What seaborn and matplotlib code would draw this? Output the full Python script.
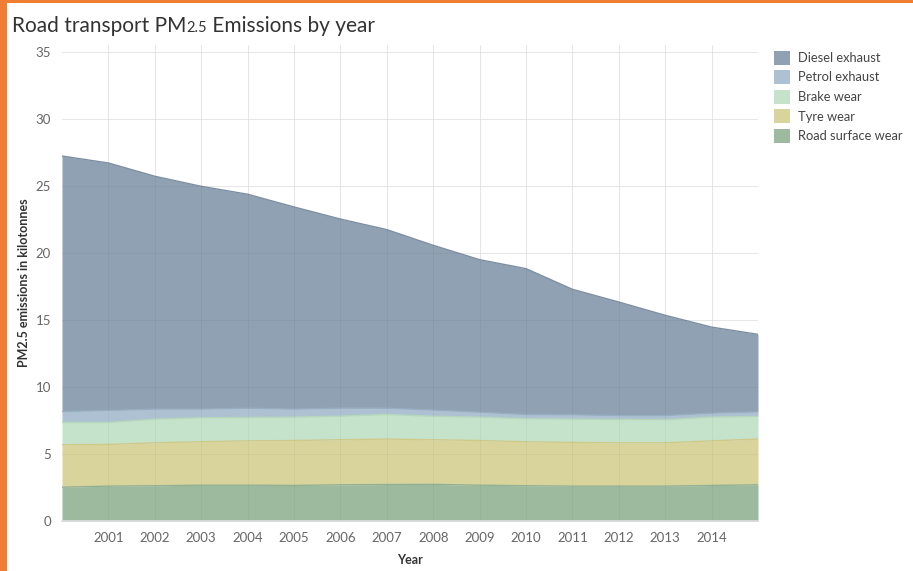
import numpy as np
import pandas as pd
import matplotlib
matplotlib.use("Agg")
import matplotlib.pyplot as plt
import seaborn as sns
from matplotlib.patches import Patch, Rectangle

years = list(range(2000, 2016))
road_surface = [2.52, 2.60, 2.63, 2.67, 2.67, 2.65, 2.70, 2.72, 2.73, 2.67, 2.63, 2.60, 2.60, 2.60, 2.65, 2.70]
tyre = [3.17, 3.11, 3.20, 3.24, 3.31, 3.35, 3.36, 3.39, 3.33, 3.33, 3.28, 3.26, 3.23, 3.23, 3.33, 3.41]
brake = [1.66, 1.64, 1.77, 1.79, 1.74, 1.75, 1.76, 1.84, 1.75, 1.75, 1.72, 1.74, 1.74, 1.72, 1.77, 1.69]
petrol = [0.82, 0.90, 0.75, 0.65, 0.70, 0.60, 0.60, 0.47, 0.47, 0.37, 0.32, 0.33, 0.30, 0.32, 0.30, 0.35]
diesel = [19.05, 18.45, 17.36, 16.61, 15.95, 15.07, 14.10, 13.31, 12.28, 11.37, 10.87, 9.35, 8.46, 7.47, 6.41, 5.77]

sources = ["Road surface wear", "Tyre wear", "Brake wear", "Petrol exhaust", "Diesel exhaust"]
colores = ["#9dba9f", "#d8d49b", "#c5e2ca", "#adc1d3", "#8fa1b2"]
bordes = ["#93b094", "#cfc98a", "#b5d8bb", "#97adc2", "#7b8ea2"]

df = pd.DataFrame({"Year": years, "Road surface wear": road_surface, "Tyre wear": tyre,
                   "Brake wear": brake, "Petrol exhaust": petrol, "Diesel exhaust": diesel})
acum = df[sources].cumsum(axis=1)
acum["Year"] = df["Year"]
largo = acum.melt(id_vars="Year", var_name="Source", value_name="Top")

sns.set_theme(style="white")
plt.rcParams["font.family"] = ["Lato", "DejaVu Sans"]

fig = plt.figure(figsize=(9.13, 5.71), dpi=100)
ax = fig.add_axes([62 / 913, 1 - 521 / 571, 696 / 913, 476 / 571])

ax.stackplot(df["Year"], [df[s] for s in sources], colors=colores, linewidth=0, zorder=1)
sns.lineplot(data=largo, x="Year", y="Top", hue="Source", hue_order=sources,
             palette=bordes, linewidth=1.0, legend=False, ax=ax, zorder=2)

ax.set_xlim(2000, 2015)
ax.set_ylim(0, 35.5)
ax.set_xticks(range(2001, 2015))
ax.set_yticks(range(0, 36, 5))
ax.grid(True, color="#efefef", linewidth=0.8, zorder=0)
ax.set_axisbelow(True)
# lineas de rejilla apenas visibles sobre las areas
for x in range(2001, 2015):
    ax.axvline(x, color="black", alpha=0.035, linewidth=0.8, zorder=3)
for y in range(5, 36, 5):
    ax.axhline(y, color="black", alpha=0.03, linewidth=0.8, zorder=3)
for s in ["top", "right", "left"]:
    ax.spines[s].set_visible(False)
ax.spines["bottom"].set_color("#dcdcdc")
ax.tick_params(axis="both", length=0, labelsize=9.5, labelcolor="#666666", pad=8)

ax.set_xlabel("Year", fontsize=9, fontweight="bold", color="#333333", labelpad=7)
ax.set_ylabel("PM2.5 emissions in kilotonnes", fontsize=9, fontweight="bold",
              color="#333333", labelpad=4)

# leyenda
handles = [Patch(facecolor=c, edgecolor="none") for c in colores[::-1]]
fig.legend(handles, sources[::-1], loc="upper left", bbox_to_anchor=(762 / 913, 1 - 39 / 571),
           frameon=False, fontsize=9.3, handlelength=1.3, handleheight=1.3,
           handletextpad=0.6, labelspacing=0.42, labelcolor="#444444")

# titulo con 2.5 pequeño
fig.canvas.draw()
r = fig.canvas.get_renderer()
t1 = fig.text(12 / 913, 1 - 32 / 571, "Road transport PM", fontsize=15, color="#333333")
bb = t1.get_window_extent(r)
t2 = fig.text(bb.x1 / 913, 1 - 32 / 571, "2.5", fontsize=10.5, color="#333333")
bb2 = t2.get_window_extent(r)
fig.text(bb2.x1 / 913, 1 - 32 / 571, " Emissions by year", fontsize=15, color="#333333")

# borde naranja
fig.patches.append(Rectangle((0, 0), 7 / 913, 1, transform=fig.transFigure,
                             facecolor="#ef7d32", edgecolor="none"))
fig.patches.append(Rectangle((0, 1 - 3 / 571), 1, 3 / 571, transform=fig.transFigure,
                             facecolor="#ef7d32", edgecolor="none"))

fig.savefig("out.png", dpi=100)
